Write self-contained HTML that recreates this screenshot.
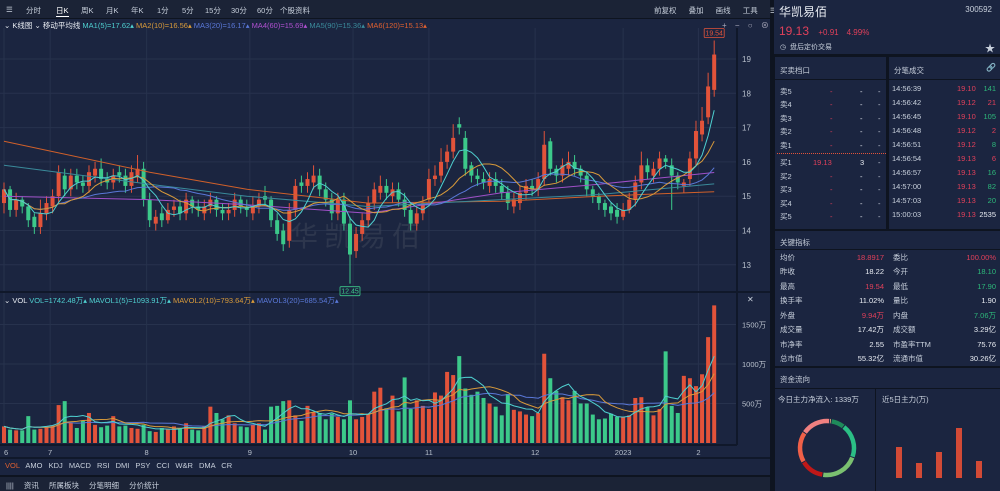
<!DOCTYPE html>
<html><head><meta charset="utf-8">
<style>
*{box-sizing:border-box;margin:0;padding:0}
body{width:1000px;height:491px;background:#0e1420;font-family:"Liberation Sans","Noto Sans CJK SC",sans-serif;color:#c8d0dc;overflow:hidden;position:relative;font-size:8px}
.abs{position:absolute}
.panel{position:absolute;background:#1b2540}
.tb span{position:absolute;top:0;white-space:nowrap}
.row{position:absolute;left:0;right:0;height:12.5px;display:flex;align-items:center;font-size:7.5px}
.r{color:#e0405a}.g{color:#2db87a}.w{color:#e8ecf2}
</style></head><body>
<div class="panel" style="left:0;top:0;width:770px;height:18px;background:#1b2336"></div>
<div class="abs tb" style="left:0;top:5px;width:330px;height:12px;font-size:7.5px;color:#c8d0dc">
<span style="left:6px">☰</span><span style="left:26px">分时</span><span style="left:56px;color:#fff;border-bottom:1px solid #fff">日K</span><span style="left:81px">周K</span><span style="left:106px">月K</span><span style="left:131px">年K</span><span style="left:157px">1分</span><span style="left:182px">5分</span><span style="left:205px">15分</span><span style="left:231px">30分</span><span style="left:257px">60分</span><span style="left:280px">个股资料</span></div>
<div class="abs" style="left:654px;top:5px;font-size:7.5px;white-space:nowrap;word-spacing:10px">前复权 叠加 画线 工具 ☰</div>
<div class="panel" style="left:0;top:19px;width:770px;height:456px"></div>
<svg class="abs" id="chart" style="left:0;top:0" width="770" height="491"></svg>
<div class="abs" style="left:4px;top:20px;font-size:7.5px;white-space:nowrap">
<span class="w">⌄ K线图 ⌄ 移动平均线</span>
<span style="color:#4fd0d0">MA1(5)=17.62▴</span>
<span style="color:#d89a3a">MA2(10)=16.56▴</span>
<span style="color:#5a78d8">MA3(20)=16.17▴</span>
<span style="color:#b050d0">MA4(60)=15.69▴</span>
<span style="color:#3a8a9a">MA5(90)=15.36▴</span>
<span style="color:#e06030">MA6(120)=15.13▴</span></div>
<div class="abs" style="left:722px;top:20px;font-size:8px;color:#aab;word-spacing:6px">+ − ○ ⊗</div>
<div class="abs" style="left:4px;top:295px;font-size:7.5px;white-space:nowrap">
<span class="w">⌄ VOL</span> <span style="color:#4fd0d0">VOL=1742.48万▴</span>
<span style="color:#4fd0d0">MAVOL1(5)=1093.91万▴</span>
<span style="color:#d89a3a">MAVOL2(10)=793.64万▴</span>
<span style="color:#5a78d8">MAVOL3(20)=685.54万▴</span></div>
<div class="abs" style="left:747px;top:295px;font-size:8px">✕</div>
<div class="abs" style="left:5px;top:461px;font-size:7.5px;white-space:nowrap;word-spacing:4px"><span style="color:#e06030">VOL</span> AMO KDJ MACD RSI DMI PSY CCI W&amp;R DMA CR</div>
<div class="panel" style="left:0;top:477px;width:770px;height:14px;background:#1b2336"></div>
<div class="abs" style="left:6px;top:480px;font-size:7.5px;white-space:nowrap;word-spacing:8px">|||| 资讯 所属板块 分笔明细 分价统计</div>

<div class="panel" style="left:774px;top:0;width:226px;height:54px">
<div class="abs w" style="left:5px;top:3px;font-size:12px">华凯易佰</div>
<div class="abs" style="right:8px;top:5px;font-size:8px">300592</div>
<div class="abs r" style="left:5px;top:24px;font-size:12px">19.13 <span style="font-size:8px;margin-left:6px">+0.91</span><span style="font-size:8px;margin-left:8px">4.99%</span></div>
<div class="abs" style="left:6px;top:42px;font-size:7px">◷ &nbsp;盘后定价交易</div>
<div class="abs" style="right:5px;top:40px;font-size:10px">★</div></div>
<div class="panel" style="left:775px;top:57px;width:111px;height:172px">
<div class="abs" style="left:5px;top:8px;font-size:7.5px">买卖档口</div>
<div class="abs" style="left:0;top:22px;width:111px;height:1px;background:#0e1420"></div>
<div id="ob"></div></div>
<div class="panel" style="left:889px;top:57px;width:111px;height:172px">
<div class="abs" style="left:5px;top:8px;font-size:7.5px">分笔成交</div>
<div class="abs" style="right:4px;top:6px;font-size:8px;color:#778">🔗</div>
<div class="abs" style="left:0;top:22px;width:111px;height:1px;background:#0e1420"></div>
<div id="tk"></div></div>
<div class="panel" style="left:775px;top:231px;width:225px;height:135px">
<div class="abs" style="left:5px;top:6px;font-size:7.5px">关键指标</div>
<div class="abs" style="left:0;top:18px;width:225px;height:1px;background:#0e1420"></div>
<div id="km"></div></div>
<div class="panel" style="left:775px;top:368px;width:225px;height:123px">
<div class="abs" style="left:5px;top:6px;font-size:7.5px">资金流向</div>
<div class="abs" style="left:0;top:20px;width:225px;height:1px;background:#0e1420"></div>
<div class="abs" style="left:100px;top:21px;width:1px;height:102px;background:#0e1420"></div>
<div class="abs" style="left:3px;top:26px;font-size:7.5px">今日主力净流入: 1339万</div>
<div class="abs" style="left:107px;top:26px;font-size:7.5px">近5日主力(万)</div>
<svg class="abs" style="left:0;top:0" width="225" height="123" id="ff"></svg>
</div>
<script>
const closes=[15.2,14.6,14.9,14.7,14.3,14.1,14.5,14.8,15.0,15.7,15.2,15.6,15.4,15.3,15.7,15.8,15.5,15.4,15.6,15.6,15.3,15.7,15.8,14.9,14.3,14.4,14.3,14.6,14.7,14.5,14.9,14.7,14.6,14.7,14.9,14.6,14.5,14.6,14.9,14.7,14.6,14.7,14.9,14.9,14.3,13.9,13.6,14.6,15.3,15.3,15.5,15.6,15.2,14.9,14.5,14.9,14.2,13.3,13.9,14.3,14.8,15.2,15.3,15.1,15.2,14.9,14.6,14.2,14.5,14.8,15.5,15.6,16.0,16.3,16.7,17.0,15.8,15.6,15.5,15.4,15.5,15.3,15.1,14.8,14.9,15.1,15.3,15.2,15.5,16.5,15.8,15.6,15.9,16.0,15.8,15.6,15.2,15.0,14.8,14.6,14.5,14.4,14.6,14.9,15.4,15.9,15.7,15.8,16.1,16.0,15.6,15.4,15.4,16.1,16.9,17.2,18.2,19.13];
const opens=[14.8,15.2,14.6,14.9,14.7,14.4,14.1,14.5,14.7,15.0,15.6,15.2,15.6,15.4,15.3,15.6,15.8,15.5,15.4,15.7,15.6,15.3,15.6,15.8,14.9,14.2,14.5,14.3,14.6,14.7,14.5,14.9,14.7,14.5,14.7,14.9,14.6,14.5,14.6,14.9,14.7,14.5,14.7,15.0,14.9,14.3,14.0,13.7,14.6,15.4,15.3,15.4,15.6,15.2,14.9,14.5,14.9,14.2,13.4,13.9,14.3,14.8,15.1,15.3,15.0,15.2,14.9,14.6,14.2,14.5,14.9,15.5,15.6,16.0,16.3,17.1,16.7,15.9,15.6,15.5,15.3,15.5,15.3,15.1,14.7,14.8,15.1,15.3,15.2,15.5,16.6,15.8,15.6,15.8,16.0,15.8,15.6,15.2,15.0,14.8,14.7,14.6,14.4,14.6,14.9,15.4,15.9,15.6,15.8,16.1,15.9,15.6,15.3,15.5,16.1,16.8,17.3,18.1];
const highs=[15.4,15.3,15.1,15.0,14.8,14.5,14.9,15.0,15.2,15.9,15.8,15.8,15.8,15.6,15.9,16.0,16.1,15.7,15.8,15.9,15.8,15.9,16.2,16.0,15.1,14.6,14.7,14.8,14.9,14.9,15.1,15.0,14.9,14.9,15.1,15.0,14.8,14.8,15.1,15.0,14.9,15.0,15.1,15.3,15.0,14.5,14.2,14.8,15.5,15.6,15.7,15.9,15.8,15.4,15.1,15.1,15.1,14.4,14.1,14.5,15.0,15.4,15.6,15.5,15.4,15.4,15.1,14.8,14.7,15.0,15.8,15.9,16.4,16.5,17.1,17.3,16.9,16.0,15.8,15.7,15.7,15.7,15.5,15.3,15.1,15.3,15.5,15.5,15.7,16.9,16.7,15.9,16.1,16.3,16.2,15.9,15.7,15.3,15.1,14.9,14.8,14.8,14.8,15.1,15.6,16.3,16.1,16.0,16.3,16.2,16.1,15.7,15.5,16.3,17.2,17.6,18.6,19.54];
const lows=[14.5,14.4,14.4,14.5,14.1,13.9,13.9,14.3,14.5,14.8,15.0,15.0,15.2,15.1,15.1,15.4,15.3,15.2,15.2,15.4,15.1,15.1,15.4,14.7,14.1,14.0,14.1,14.2,14.4,14.3,14.3,14.5,14.4,14.3,14.5,14.4,14.3,14.3,14.4,14.5,14.4,14.3,14.5,14.7,14.1,13.7,13.4,13.5,14.4,15.1,15.1,15.2,15.0,14.7,14.3,14.3,14.0,12.45,13.2,13.7,14.1,14.6,14.9,14.9,14.8,14.7,14.4,14.0,14.0,14.3,14.7,15.3,15.4,15.8,16.1,16.8,15.6,15.4,15.3,15.2,15.1,15.1,14.9,14.6,14.5,14.6,14.9,15.0,15.0,15.3,15.6,15.4,15.4,15.6,15.6,15.4,15.0,14.8,14.6,14.4,14.3,14.2,14.3,14.5,14.7,15.2,15.5,15.4,15.6,15.8,14.6,15.2,15.1,15.3,15.9,16.6,17.1,17.9];
const volumes=[210,170,160,160,340,170,180,200,220,480,530,260,190,280,380,230,200,220,340,210,220,190,180,230,150,140,190,170,210,180,250,170,160,210,460,380,300,350,250,210,200,230,250,170,460,470,530,540,350,280,470,390,380,300,370,330,300,540,300,330,360,650,700,440,600,400,830,430,540,470,430,640,600,900,860,1100,690,610,650,570,500,460,350,620,420,400,360,340,380,1130,820,660,580,540,660,500,500,360,300,310,370,330,330,350,570,580,450,350,430,1160,470,380,850,820,720,870,1340,1742];
const longIdx=[0,24,40,60,82,98,117];
const ma60v=[15.0,14.9,14.75,14.5,15.1,15.35,15.69];
const ma90v=[15.9,15.35,15.0,14.7,14.9,15.05,15.36];
const ma120v=[16.6,15.7,15.2,14.8,14.85,15.0,15.13];
const priceTicks=[13,14,15,16,17,18,19];
const volTicks=[500,1000,1500];
const monthLabels=["6","7","8","9","10","11","12","2023","2"];
const monthIdx=[0,7.6,23.5,40.5,57.5,70,87.5,102,114.4];
const flowShares=[8,20,22,14,18,17,1];
const flow5=[31,15,26,50,17];

const NS="http://www.w3.org/2000/svg";
const svg=document.getElementById('chart');
function el(t,a,p){const e=document.createElementNS(NS,t);for(const k in a)e.setAttribute(k,a[k]);(p||svg).appendChild(e);return e;}
const xOf=i=>4+i*6.07;
const yP=v=>59+(19-v)*34.3;
const yV=v=>443-v*0.079;
priceTicks.forEach(t=>{
 const l=el('line',{x1:0,x2:737,y1:yP(t),y2:yP(t),stroke:'#27324d','stroke-width':1});
 
 const tx=el('text',{x:742,y:yP(t)+3,fill:'#b8c0cc','font-size':8});tx.textContent=t;
 
});
volTicks.forEach(t=>{
 const l=el('line',{x1:0,x2:737,y1:yV(t),y2:yV(t),stroke:'#27324d'});
 
 const tx=el('text',{x:742,y:yV(t)+3,fill:'#b8c0cc','font-size':7.5});tx.textContent=t+'万';
 
});
monthIdx.forEach((m,k)=>{
 const x=xOf(m);
 const l=el('line',{x1:x,x2:x,y1:28,y2:445,stroke:'#27324d'});
 
 const tx=el('text',{x:x,y:455,fill:'#b8c0cc','font-size':7.5,'text-anchor':k==0?'start':'middle'});tx.textContent=monthLabels[k];
 
});
[[0,292,770,292],[737,28,737,445],[0,445,737,445],[0,458,770,458]].forEach(a=>{
 const l=el('line',{x1:a[0],y1:a[1],x2:a[2],y2:a[3],stroke:'#10182a','stroke-width':2});
 
});
const wm=el('text',{x:290,y:246,fill:'#3a4256','font-size':28,'fill-opacity':0.6,'letter-spacing':6});wm.textContent='华凯易佰';

const RED='#e2533a',GRN='#3cc98a';
closes.forEach((c,i)=>{
 const o=opens[i],up=c>=o,col=up?RED:GRN,x=xOf(i);
 const w=el('line',{x1:x,x2:x,y1:yP(highs[i]),y2:yP(lows[i]),stroke:col,'stroke-width':1});
 
 const b=el('rect',{x:x-2,width:4,y:yP(Math.max(o,c)),height:Math.max(1,Math.abs(yP(o)-yP(c))),fill:col});
 
 const v=el('rect',{x:x-2,width:4,y:yV(volumes[i]),height:443-yV(volumes[i]),fill:col});
 
});
function ma(arr,n){return arr.map((_,i)=>{const s=Math.max(0,i-n+1);let t=0;for(let j=s;j<=i;j++)t+=arr[j];return t/(i-s+1);});}
function poly(vals,yf,col,name){
 const p=vals.map((v,i)=>xOf(i).toFixed(1)+','+yf(v).toFixed(1)).join(' ');
 const l=el('polyline',{points:p,fill:'none',stroke:col,'stroke-width':1});
 
}
function polyIdx(idx,vals,col,name){
 const p=idx.map((ix,k)=>xOf(ix).toFixed(1)+','+yP(vals[k]).toFixed(1)).join(' ');
 const l=el('polyline',{points:p,fill:'none',stroke:col,'stroke-width':1});
 
}
polyIdx(longIdx,ma120v,'#d0602a','ma120-line');
polyIdx(longIdx,ma90v,'#3a8a9a','ma90-line');
polyIdx(longIdx,ma60v,'#a050c8','ma60-line');
poly(ma(closes,20),yP,'#5a78d8','ma20-line');
poly(ma(closes,10),yP,'#d89a3a','ma10-line');
poly(ma(closes,5),yP,'#4fd0d0','ma5-line');
poly(ma(volumes,20),yV,'#5a78d8','mavol20-line');
poly(ma(volumes,10),yV,'#d89a3a','mavol10-line');
poly(ma(volumes,5),yV,'#4fd0d0','mavol5-line');
function marker(i,v,name,col,y){
 const x=xOf(i);
 const r=el('rect',{x:x-10,y:y,width:20,height:9,fill:'#1b2540',stroke:col,'stroke-width':0.8,rx:1});
 
 const t=el('text',{x:x,y:y+7,fill:col,'font-size':7,'text-anchor':'middle'});t.textContent=v;
 
}
marker(117,highs[117].toFixed(2),'high-marker','#e2533a',yP(highs[117])-12);
marker(57,lows[57].toFixed(2),'low-marker','#3cc98a',yP(lows[57])+3);

const ob=document.getElementById('ob');
const obRows=[['卖5','-'],['卖4','-'],['卖3','-'],['卖2','-'],['卖1','-'],['买1','19.13','3'],['买2','-'],['买3','-'],['买4','-'],['买5','-']];
obRows.forEach((r,k)=>{
 const d=document.createElement('div');d.className='row';d.style.top=(28+k*13.5+(k>=5?4:0))+'px';
 
 d.innerHTML=`<span style="position:absolute;left:5px">${r[0]}</span><span class="r" style="position:absolute;left:${r[1]=='-'?55:38}px">${r[1]}</span><span class="w" style="position:absolute;left:85px">${r[2]||'-'}</span><span style="position:absolute;left:103px">-</span>`;
 ob.appendChild(d);
});
const dl=document.createElement('div');dl.className='abs';dl.style.cssText='left:2px;top:96px;width:109px;border-top:1.5px dotted #e2533a';
ob.appendChild(dl);
const tk=document.getElementById('tk');
const tkTimes=['14:56:39','14:56:42','14:56:45','14:56:48','14:56:51','14:56:54','14:56:57','14:57:00','14:57:03','15:00:03'];
const tkPrices=['19.10','19.12','19.10','19.12','19.12','19.13','19.13','19.13','19.13','19.13'];
const tkVols=['141','21','105','2','8','6','16','82','20','2535'];
const tkCls=['g','r','g','r','g','r','g','g','g','w'];
tkTimes.forEach((t,k)=>{
 const d=document.createElement('div');d.className='row';d.style.top=(25+k*14)+'px';
 
 d.innerHTML=`<span style="position:absolute;left:3px">${t}</span><span class="r" style="position:absolute;left:68px">${tkPrices[k]}</span><span class="${tkCls[k]}" style="position:absolute;right:4px">${tkVols[k]}</span>`;
 tk.appendChild(d);
});
const km=document.getElementById('km');
const kmRows=[['均价','18.8917','r','委比','100.00%','r'],['昨收','18.22','w','今开','18.10','g'],['最高','19.54','r','最低','17.90','g'],['换手率','11.02%','w','量比','1.90','w'],['外盘','9.94万','r','内盘','7.06万','g'],['成交量','17.42万','w','成交额','3.29亿','w'],['市净率','2.55','w','市盈率TTM','75.76','w'],['总市值','55.32亿','w','流通市值','30.26亿','w']];
kmRows.forEach((r,k)=>{
 const d=document.createElement('div');d.className='row';d.style.top=(20+k*14.5)+'px';
 
 d.innerHTML=`<span style="position:absolute;left:5px">${r[0]}</span><span class="${r[2]}" style="position:absolute;right:116px">${r[1]}</span><span style="position:absolute;left:118px">${r[3]}</span><span class="${r[5]}" style="position:absolute;right:4px">${r[4]}</span>`;
 km.appendChild(d);
});
const ff=document.getElementById('ff');
const flowColors=['#1f8a5a','#2bbf85','#7ac070','#c01818','#f06048','#f08080','#f0b080'];
const cx=52,cy=80,R=27;let ang=-80;const tot=flowShares.reduce((a,b)=>a+b,0);
flowShares.forEach((s,k)=>{
 const a0=ang*Math.PI/180,a1=(ang+s/tot*360-2)*Math.PI/180;ang+=s/tot*360;
 const p=el('path',{d:`M${cx+R*Math.cos(a0)},${cy+R*Math.sin(a0)} A${R},${R} 0 ${s/tot>0.5?1:0} 1 ${cx+R*Math.cos(a1)},${cy+R*Math.sin(a1)}`,fill:'none',stroke:flowColors[k],'stroke-width':4.5},ff);
 
});
flow5.forEach((v,k)=>{
 const r=el('rect',{x:121+k*20,y:110-v,width:6,height:v,fill:'#d24a36'},ff);
 
});
</script>
</body></html>
